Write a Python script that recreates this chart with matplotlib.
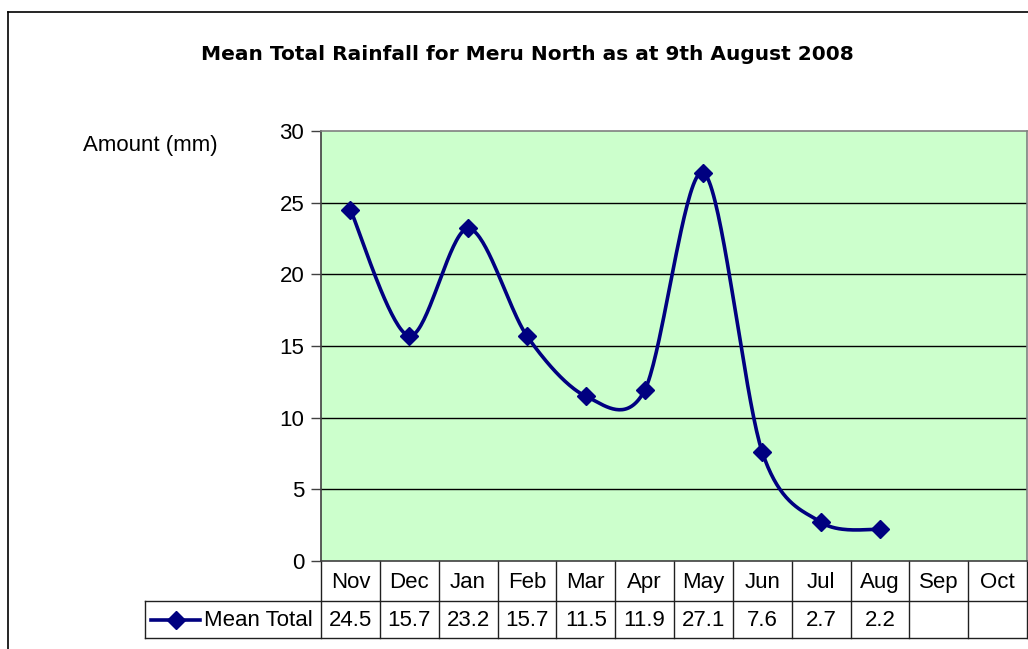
import numpy as np
import matplotlib
matplotlib.use("Agg")
import matplotlib.pyplot as plt
from matplotlib.lines import Line2D

months = ["Nov", "Dec", "Jan", "Feb", "Mar", "Apr", "May", "Jun", "Jul", "Aug", "Sep", "Oct"]
values = [24.5, 15.7, 23.2, 15.7, 11.5, 11.9, 27.1, 7.6, 2.7, 2.2]
series_name = "Mean Total"
title = "Mean Total Rainfall for Meru North as at 9th August 2008"
ylabel = "Amount (mm)"
yticks = [0, 5, 10, 15, 20, 25, 30]

W, H = 1028, 649
fig = plt.figure(figsize=(W / 100, H / 100), dpi=100)
plt.rcParams['font.family'] = ['Liberation Sans', 'DejaVu Sans']
FS = 16

def fx(px):
    return px / W

def fy(py):
    return 1 - py / H

# outer chart border
fig.add_artist(Line2D([fx(8), fx(8)], [fy(12), fy(649)], color='black', lw=1.2))
fig.add_artist(Line2D([fx(8), fx(1028)], [fy(12), fy(12)], color='black', lw=1.2))

L, R, T, B = 321, 1027, 131, 561
ax = fig.add_axes([fx(L), fy(B), fx(R - L), (B - T) / H])
ax.set_facecolor('#CCFFCC')
n = len(months)
ax.set_xlim(0, n)
ax.set_ylim(0, 30)
ax.set_yticks(yticks)
ax.set_xticks([])
for s in ax.spines.values():
    s.set_color('#808080')
    s.set_linewidth(1.2)
ax.spines['left'].set_color('#404040')
ax.spines['bottom'].set_color('#404040')
ax.tick_params(axis='y', length=7, width=1, color='#404040', labelsize=FS, pad=5)
for y in yticks[1:-1]:
    ax.axhline(y, color='black', lw=1, zorder=1)

# Excel-like smoothed line (Catmull-Rom Bezier)
x = np.arange(len(values)) + 0.5
y = np.array(values, dtype=float)
P = np.column_stack([x, y])
Pe = np.vstack([P[0], P, P[-1]])
t = np.linspace(0, 1, 40)[:, None]
k = 1 / 6.5
curve = []
for i in range(len(P) - 1):
    p0, p1, p2, p3 = Pe[i], Pe[i + 1], Pe[i + 2], Pe[i + 3]
    c1 = p1 + (p2 - p0) * k
    c2 = p2 - (p3 - p1) * k
    seg = ((1 - t) ** 3) * p1 + 3 * ((1 - t) ** 2) * t * c1 + 3 * (1 - t) * t ** 2 * c2 + t ** 3 * p2
    curve.append(seg if i == 0 else seg[1:])
curve = np.vstack(curve)
ax.plot(curve[:, 0], curve[:, 1], color='#000080', lw=2.6, zorder=3, solid_capstyle='round')
ax.plot(x, y, linestyle='none', marker='D', markersize=9.2, color='#000080', zorder=4)

# title and axis label
fig.text(fx(527), fy(54), title, ha='center', va='center', fontsize=14.5,
         fontweight='bold', family=['DejaVu Sans'])
fig.text(fx(150), fy(146), ylabel, ha='center', va='center', fontsize=FS)

# data table below the axis
tr = ax.get_xaxis_transform()
r1_top, r1_bot, r2_bot = 0, -(601 - 561) / (B - T), -(638 - 561) / (B - T)
cw = (R - L) / n
left_x = (145 - L) / cw
lk = dict(color='#202020', lw=1, clip_on=False, transform=tr)
for i in range(n + 1):
    ax.add_line(Line2D([i, i], [r1_top, r2_bot], **lk))
ax.add_line(Line2D([left_x, n], [r1_bot, r1_bot], **lk))
ax.add_line(Line2D([left_x, n], [r2_bot, r2_bot], **lk))
ax.add_line(Line2D([left_x, left_x], [r1_bot, r2_bot], **lk))
off = -1.5 / (B - T)
for i, m in enumerate(months):
    ax.text(i + 0.5, (r1_top + r1_bot) / 2 + off, m, transform=tr, ha='center', va='center',
            fontsize=FS, clip_on=False)
for i, v in enumerate(values):
    ax.text(i + 0.5, (r1_bot + r2_bot) / 2 + off, f"{v:.1f}", transform=tr, ha='center', va='center',
            fontsize=FS, clip_on=False)
# legend key in the table
ymid = (r1_bot + r2_bot) / 2
kx0 = (151 - L) / cw
kx1 = (200 - L) / cw
ax.add_line(Line2D([kx0, kx1], [ymid, ymid], color='#000080', lw=2.6, clip_on=False, transform=tr))
ax.add_line(Line2D([(kx0 + kx1) / 2], [ymid], marker='D', markersize=9.2, color='#000080',
                   linestyle='none', clip_on=False, transform=tr))
ax.text((204 - L) / cw, ymid + off, series_name, transform=tr, ha='left', va='center',
        fontsize=FS, clip_on=False)

fig.savefig("out.png", dpi=100)
